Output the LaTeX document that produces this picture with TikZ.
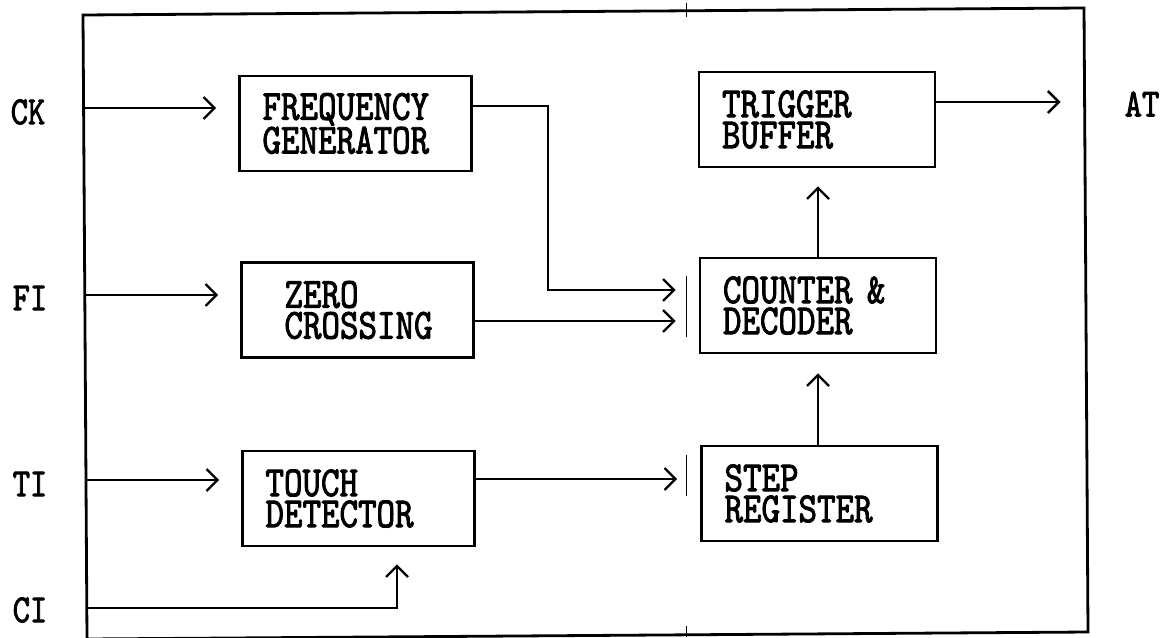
\documentclass[tikz,border=0pt]{standalone}
\usepackage{fontspec}
\newfontfamily\diafont[Extension=.otf,FakeStretch=0.82,FakeBold=2]{lmmono10-regular}
\usetikzlibrary{arrows.meta,calc}
\begin{document}
\begin{tikzpicture}[x=1pt,y=-1pt,
  blk/.style={draw, line width=2.6pt, minimum height=95pt, inner xsep=0pt, inner ysep=0pt,
    align=left, font=\diafont\fontsize{43}{31}\selectfont},
  lbl/.style={font=\diafont\fontsize{40}{31}\selectfont, inner sep=0pt},
  conn/.style={line width=2.5pt, -{Straight Barb[length=11pt,width=22pt,line width=2.4pt]}},
  frame/.style={line width=2.8pt, line join=miter},
  tick/.style={line width=0.7pt}]
\useasboundingbox (0,0) rectangle (1164,637);
\clip (0,0) rectangle (1164,637);
% outer frame (slightly tilted, as scanned)
\draw[frame] (83,15) -- (1084,8) -- (1088,632) -- (87,639) -- cycle;
% blocks
\node[blk, minimum width=232pt, text width=186pt] (FG) at (355.5,123.5) {FREQUENCY\\GENERATOR};
\node[blk, minimum width=232pt, text width=146pt] (ZC) at (357.5,310) {ZERO\\CROSSING};
\node[blk, minimum width=232pt, text width=186pt] (TD) at (358.5,498.5) {TOUCH\\DETECTOR};
\node[blk, minimum width=236pt, text width=190pt] (TB) at (817,119.5) {TRIGGER\\BUFFER};
\node[blk, minimum width=236pt, text width=190pt] (CD) at (818,305.5) {COUNTER \&\\DECODER};
\node[blk, minimum width=236pt, text width=190pt] (SR) at (819.5,493.5) {STEP\\REGISTER};
% labels
\node[lbl] (CK) at (28,112) {CK};
\node[lbl] (FI) at (30,298) {FI};
\node[lbl] (TI) at (30,484) {TI};
\node[lbl] (CI) at (30,610) {CI};
\node[lbl] (AT) at (1142,104) {AT};
% frame entry / exit points
\coordinate (ckin) at (83.6,108);
\coordinate (fiin) at (84.7,295);
\coordinate (tiin) at (85.8,480);
\coordinate (ciin) at (86.6,608);
\coordinate (atout) at (1084.5,102);
\coordinate (fgbend) at (548,0);
\coordinate (fgout) at ([yshift=17.5pt]FG.east);
\coordinate (cdin) at ([yshift=15.5pt]CD.west);
\coordinate (zcout) at ([yshift=-11pt]ZC.east);
\coordinate (tdout) at ([yshift=19.5pt]TD.east);
\coordinate (tbout) at ([yshift=17.5pt]TB.east);
\coordinate (tdin) at ([xshift=38.5pt]TD.south);
% connectors
\draw[conn, shorten >=22pt] (ckin) -- (ckin -| FG.west);
\draw[conn, shorten >=22pt] (fiin) -- (fiin -| ZC.west);
\draw[conn, shorten >=22pt] (tiin) -- (tiin -| TD.west);
\draw[conn, shorten >=17pt] (ciin) -| (tdin);
\draw[conn, shorten >=23pt] (fgout) -| (fgbend |- cdin) -- (cdin);
\draw[conn, shorten >=23pt] (zcout) -- (zcout -| CD.west);
\draw[conn, shorten >=23pt] (tdout) -- (tdout -| SR.west);
\draw[conn, shorten >=18pt] (CD.north) -- (CD.north |- TB.south);
\draw[conn, shorten >=19pt] (CD.south |- SR.north) -- (CD.south);
\draw[conn, shorten >=24pt] (tbout) -- (atout);
% thin marks beside the counter / register inputs and on the frame
\draw[tick] (686,276) -- (686,337);
\draw[tick] (686,455) -- (686,496);
\draw[tick] (686,3) -- (686,17);
\draw[tick] (686,626) -- (686,637);
\end{tikzpicture}
\end{document}
